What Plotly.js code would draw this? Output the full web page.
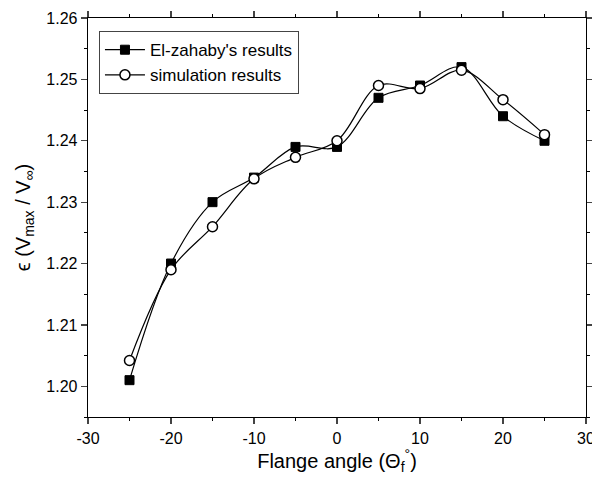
<!DOCTYPE html>
<html><head><meta charset="utf-8">
<script src="https://cdn.plot.ly/plotly-3.0.1.min.js"></script>
<style>html,body{margin:0;padding:0;background:#fff}#c{width:592px;height:481px}</style>
</head><body><div id="c"></div>
<script>
const angles = [-25, -20, -15, -10, -5, 0, 5, 10, 15, 20, 25];
const elZahaby = [1.201, 1.220, 1.230, 1.234, 1.239, 1.239, 1.247, 1.249, 1.252, 1.244, 1.240];
const simulation = [1.2042, 1.219, 1.226, 1.2338, 1.2373, 1.240, 1.249, 1.2485, 1.2515, 1.2467, 1.241];
const seriesNames = ["El-zahaby's results", "simulation results"];
const xTickVals = [-30, -20, -10, 0, 10, 20, 30];
const xTickText = ['-30', '-20', '-10', '0', '10', '20', '30'];

const traces = [
  {x: angles, y: elZahaby, name: seriesNames[0], mode: 'lines+markers',
   line: {color: '#000', width: 1.2, shape: 'spline', smoothing: 1},
   marker: {symbol: 'square', size: 9, color: '#000', line: {color: '#000', width: 1}}},
  {x: angles, y: simulation, name: seriesNames[1], mode: 'lines+markers',
   line: {color: '#000', width: 1.2, shape: 'spline', smoothing: 1},
   marker: {symbol: 'circle', size: 10, color: '#fff', line: {color: '#000', width: 1.5}}}
];
const fam = 'Liberation Sans, Arial, sans-serif';
const layout = {
  width: 592, height: 481,
  margin: {l: 88, r: 6, t: 18, b: 64},
  paper_bgcolor: '#fff', plot_bgcolor: '#fff',
  showlegend: true,
  legend: {x: 0.022, y: 0.967, xanchor: 'left', yanchor: 'top', bordercolor: '#444', borderwidth: 1,
           bgcolor: '#fff', font: {family: fam, size: 17, color: '#000'}, tracegroupgap: 0, itemwidth: 40},
  xaxis: {range: [-30, 30], tickvals: xTickVals, ticktext: xTickText, ticks: 'outside', ticklen: 6, tickwidth: 1.2,
          ticklabeloverflow: 'allow',
          showline: true, linecolor: '#000', linewidth: 1.3, mirror: 'ticks', showgrid: false, zeroline: false,
          tickfont: {family: fam, size: 16, color: '#000'},
          minor: {dtick: 5, ticks: 'outside', ticklen: 3, tickwidth: 1, tickcolor: '#000', showgrid: false},
          title: {text: 'Flange angle (Θ<sub>f</sub><sup>°</sup>)', font: {family: fam, size: 20, color: '#000'}, standoff: 8}},
  yaxis: {range: [1.195, 1.26], dtick: 0.01, tick0: 1.2, tickformat: '.2f', ticks: 'outside', ticklen: 6, tickwidth: 1.2,
          showline: true, linecolor: '#000', linewidth: 1.3, mirror: 'ticks', showgrid: false, zeroline: false,
          tickfont: {family: fam, size: 16, color: '#000'},
          minor: {dtick: 0.005, ticks: 'outside', ticklen: 3, tickwidth: 1, tickcolor: '#000', showgrid: false},
          title: {text: 'ϵ (V<sub>max</sub> / V<sub>∞</sub>)', font: {family: fam, size: 20, color: '#000'}, standoff: 10}}
};
Plotly.newPlot('c', traces, layout, {staticPlot: true});
</script></body></html>
